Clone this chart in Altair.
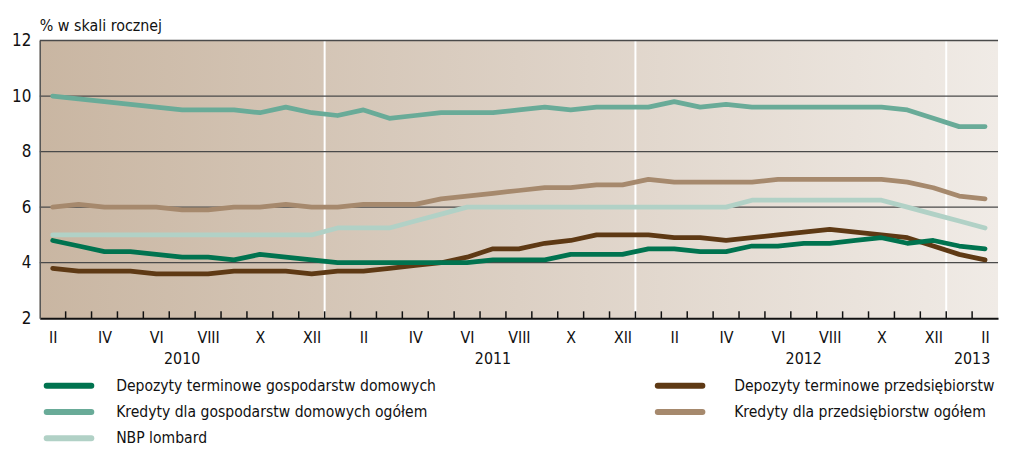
import altair as alt
import pandas as pd

# ---------------- data (Feb 2010 ... Feb 2013, monthly) ----------------
roman = ["I", "II", "III", "IV", "V", "VI", "VII", "VIII", "IX", "X", "XI", "XII"]
year_labels = ["2010", "2011", "2012", "2013"]
year_pos = [5, 17, 29, 35.5]

dep_gd = [4.8, 4.6, 4.4, 4.4, 4.3, 4.2, 4.2, 4.1, 4.3, 4.2, 4.1,
          4.0, 4.0, 4.0, 4.0, 4.0, 4.0, 4.1, 4.1, 4.1, 4.3, 4.3, 4.3,
          4.5, 4.5, 4.4, 4.4, 4.6, 4.6, 4.7, 4.7, 4.8, 4.9, 4.7, 4.8,
          4.6, 4.5]
dep_prz = [3.8, 3.7, 3.7, 3.7, 3.6, 3.6, 3.6, 3.7, 3.7, 3.7, 3.6,
           3.7, 3.7, 3.8, 3.9, 4.0, 4.2, 4.5, 4.5, 4.7, 4.8, 5.0, 5.0,
           5.0, 4.9, 4.9, 4.8, 4.9, 5.0, 5.1, 5.2, 5.1, 5.0, 4.9, 4.6,
           4.3, 4.1]
kred_gd = [10.0, 9.9, 9.8, 9.7, 9.6, 9.5, 9.5, 9.5, 9.4, 9.6, 9.4,
           9.3, 9.5, 9.2, 9.3, 9.4, 9.4, 9.4, 9.5, 9.6, 9.5, 9.6, 9.6,
           9.6, 9.8, 9.6, 9.7, 9.6, 9.6, 9.6, 9.6, 9.6, 9.6, 9.5, 9.2,
           8.9, 8.9]
kred_prz = [6.0, 6.1, 6.0, 6.0, 6.0, 5.9, 5.9, 6.0, 6.0, 6.1, 6.0,
            6.0, 6.1, 6.1, 6.1, 6.3, 6.4, 6.5, 6.6, 6.7, 6.7, 6.8, 6.8,
            7.0, 6.9, 6.9, 6.9, 6.9, 7.0, 7.0, 7.0, 7.0, 7.0, 6.9, 6.7,
            6.4, 6.3]
lombard = [5.0, 5.0, 5.0, 5.0, 5.0, 5.0, 5.0, 5.0, 5.0, 5.0, 5.0,
           5.25, 5.25, 5.25, 5.5, 5.75, 6.0, 6.0, 6.0, 6.0, 6.0, 6.0, 6.0,
           6.0, 6.0, 6.0, 6.0, 6.25, 6.25, 6.25, 6.25, 6.25, 6.25, 6.0, 5.75,
           5.5, 5.25]

names = ["Depozyty terminowe gospodarstw domowych",
         "Depozyty terminowe przedsiębiorstw",
         "Kredyty dla gospodarstw domowych ogółem",
         "Kredyty dla przedsiębiorstw ogółem",
         "NBP lombard"]
colors = ["#00734f", "#5e3914", "#69ab98", "#a6896d", "#b1d1c6"]
series = [dep_gd, dep_prz, kred_gd, kred_prz, lombard]

# ---------------- layout ----------------
W, H = 966, 280
FONT = "DejaVu Sans Condensed, Liberation Sans, sans-serif"
FS = 16
n = len(dep_gd)
XDOM = [-0.5, n - 0.5]
YDOM = [2, 12]

rows = []
for name, vals in zip(names, series):
    for i, v in enumerate(vals):
        rows.append({"t": i, "v": v, "s": name})
df = pd.DataFrame(rows)

xs = alt.Scale(domain=XDOM, nice=False, zero=False)
ys = alt.Scale(domain=YDOM, nice=False, zero=False)

bg = alt.Chart(pd.DataFrame({"a": [0]})).mark_rect(
    color=alt.Gradient(
        gradient="linear",
        stops=[alt.GradientStop(color="#c9b6a2", offset=0),
               alt.GradientStop(color="#dcd0c4", offset=0.5),
               alt.GradientStop(color="#f0ebe6", offset=1)],
        x1=0, x2=1, y1=0, y2=0)
).encode(x=alt.value(0), x2=alt.value(W), y=alt.value(0), y2=alt.value(H))

year_lines = alt.Chart(pd.DataFrame({"b": [10.5, 22.5, 34.5]})).mark_rule(
    color="white", strokeWidth=2
).encode(x=alt.X("b:Q", scale=xs), y=alt.value(0), y2=alt.value(H))

grid = alt.Chart(pd.DataFrame({"g": [4, 6, 8, 10, 12]})).mark_rule(
    color="#4a4a4a", strokeWidth=1.3
).encode(
    y=alt.Y("g:Q", scale=ys,
            axis=alt.Axis(values=[2, 4, 6, 8, 10, 12], title=None, grid=False,
                          tickSize=0, labelPadding=9, labelFont=FONT,
                          labelFontSize=FS + 1, labelColor="#111",
                          domainColor="#555", domainWidth=1.5, zindex=1)),
    x=alt.value(0), x2=alt.value(W))

ticks_df = pd.DataFrame({"k": [i + 0.5 for i in range(n - 1)], "y0": 2.0, "y1": 2.25})
ticks = alt.Chart(ticks_df).mark_rule(color="#111", strokeWidth=1.5).encode(
    x=alt.X("k:Q", scale=xs), y=alt.Y("y0:Q", scale=ys), y2="y1:Q")

label_expr = "[" + ",".join("'%s'" % r for r in roman) + "][(datum.value + 1) % 12]"

line_layers = []
order = [3, 4, 2, 1, 0]
for idx in order:
    line_layers.append(
        alt.Chart(df).transform_filter(alt.datum.s == names[idx]).mark_line(
            color=colors[idx], strokeWidth=4.8, strokeCap="round", strokeJoin="round"
        ).encode(
            x=alt.X("t:Q", scale=xs,
                    axis=alt.Axis(values=list(range(0, n, 2)), labelExpr=label_expr,
                                  title=None, grid=False, tickSize=0, labelPadding=11,
                                  labelFont=FONT, labelFontSize=FS, labelColor="#111",
                                  domainColor="#111", domainWidth=2, zindex=1,
                                  labelFlush=False)),
            y=alt.Y("v:Q", scale=ys),
            order="t:Q")
    )

years = alt.Chart(pd.DataFrame({"yl": year_labels, "yp": year_pos})).mark_text(
    font=FONT, fontSize=FS, color="#111", baseline="middle", align="center"
).encode(x=alt.X("yp:Q", scale=xs), y=alt.value(H + 41), text="yl:N")

title = alt.Chart(pd.DataFrame({"tt": ["% w skali rocznej"]})).mark_text(
    font=FONT, fontSize=FS, color="#111", baseline="alphabetic", align="left"
).encode(x=alt.value(0), y=alt.value(-10), text="tt:N")

leg_df = pd.DataFrame({"name": names, "color": colors,
                       "col": [0, 1, 0, 1, 0], "row": [0, 0, 1, 1, 2]})
leg_base = alt.Chart(leg_df).transform_calculate(
    lx1="datum.col == 0 ? 7 : 623",
    lx2="datum.col == 0 ? 52 : 668",
    lt="datum.col == 0 ? 77 : 700",
    ly=f"{H + 68} + datum.row * 26.5")
leg_lines = leg_base.mark_rule(strokeWidth=6, strokeCap="round").encode(
    x=alt.X("lx1:Q", scale=None), x2="lx2:Q", y=alt.Y("ly:Q", scale=None),
    color=alt.Color("color:N", scale=None))
leg_text = leg_base.mark_text(font=FONT, fontSize=15.7, color="#111",
                              align="left", baseline="middle").encode(
    x=alt.X("lt:Q", scale=None), y=alt.Y("ly:Q", scale=None), text="name:N")

chart = alt.layer(bg, year_lines, grid, ticks, *line_layers, years, title,
                  leg_lines, leg_text).properties(
    width=W, height=H,
    autosize=alt.AutoSizeParams(type="none"),
    padding={"left": 32, "top": 31, "right": 3, "bottom": 127},
).configure_view(stroke=None)

chart.save("out.html", embed_options={"renderer": "svg", "actions": False})
